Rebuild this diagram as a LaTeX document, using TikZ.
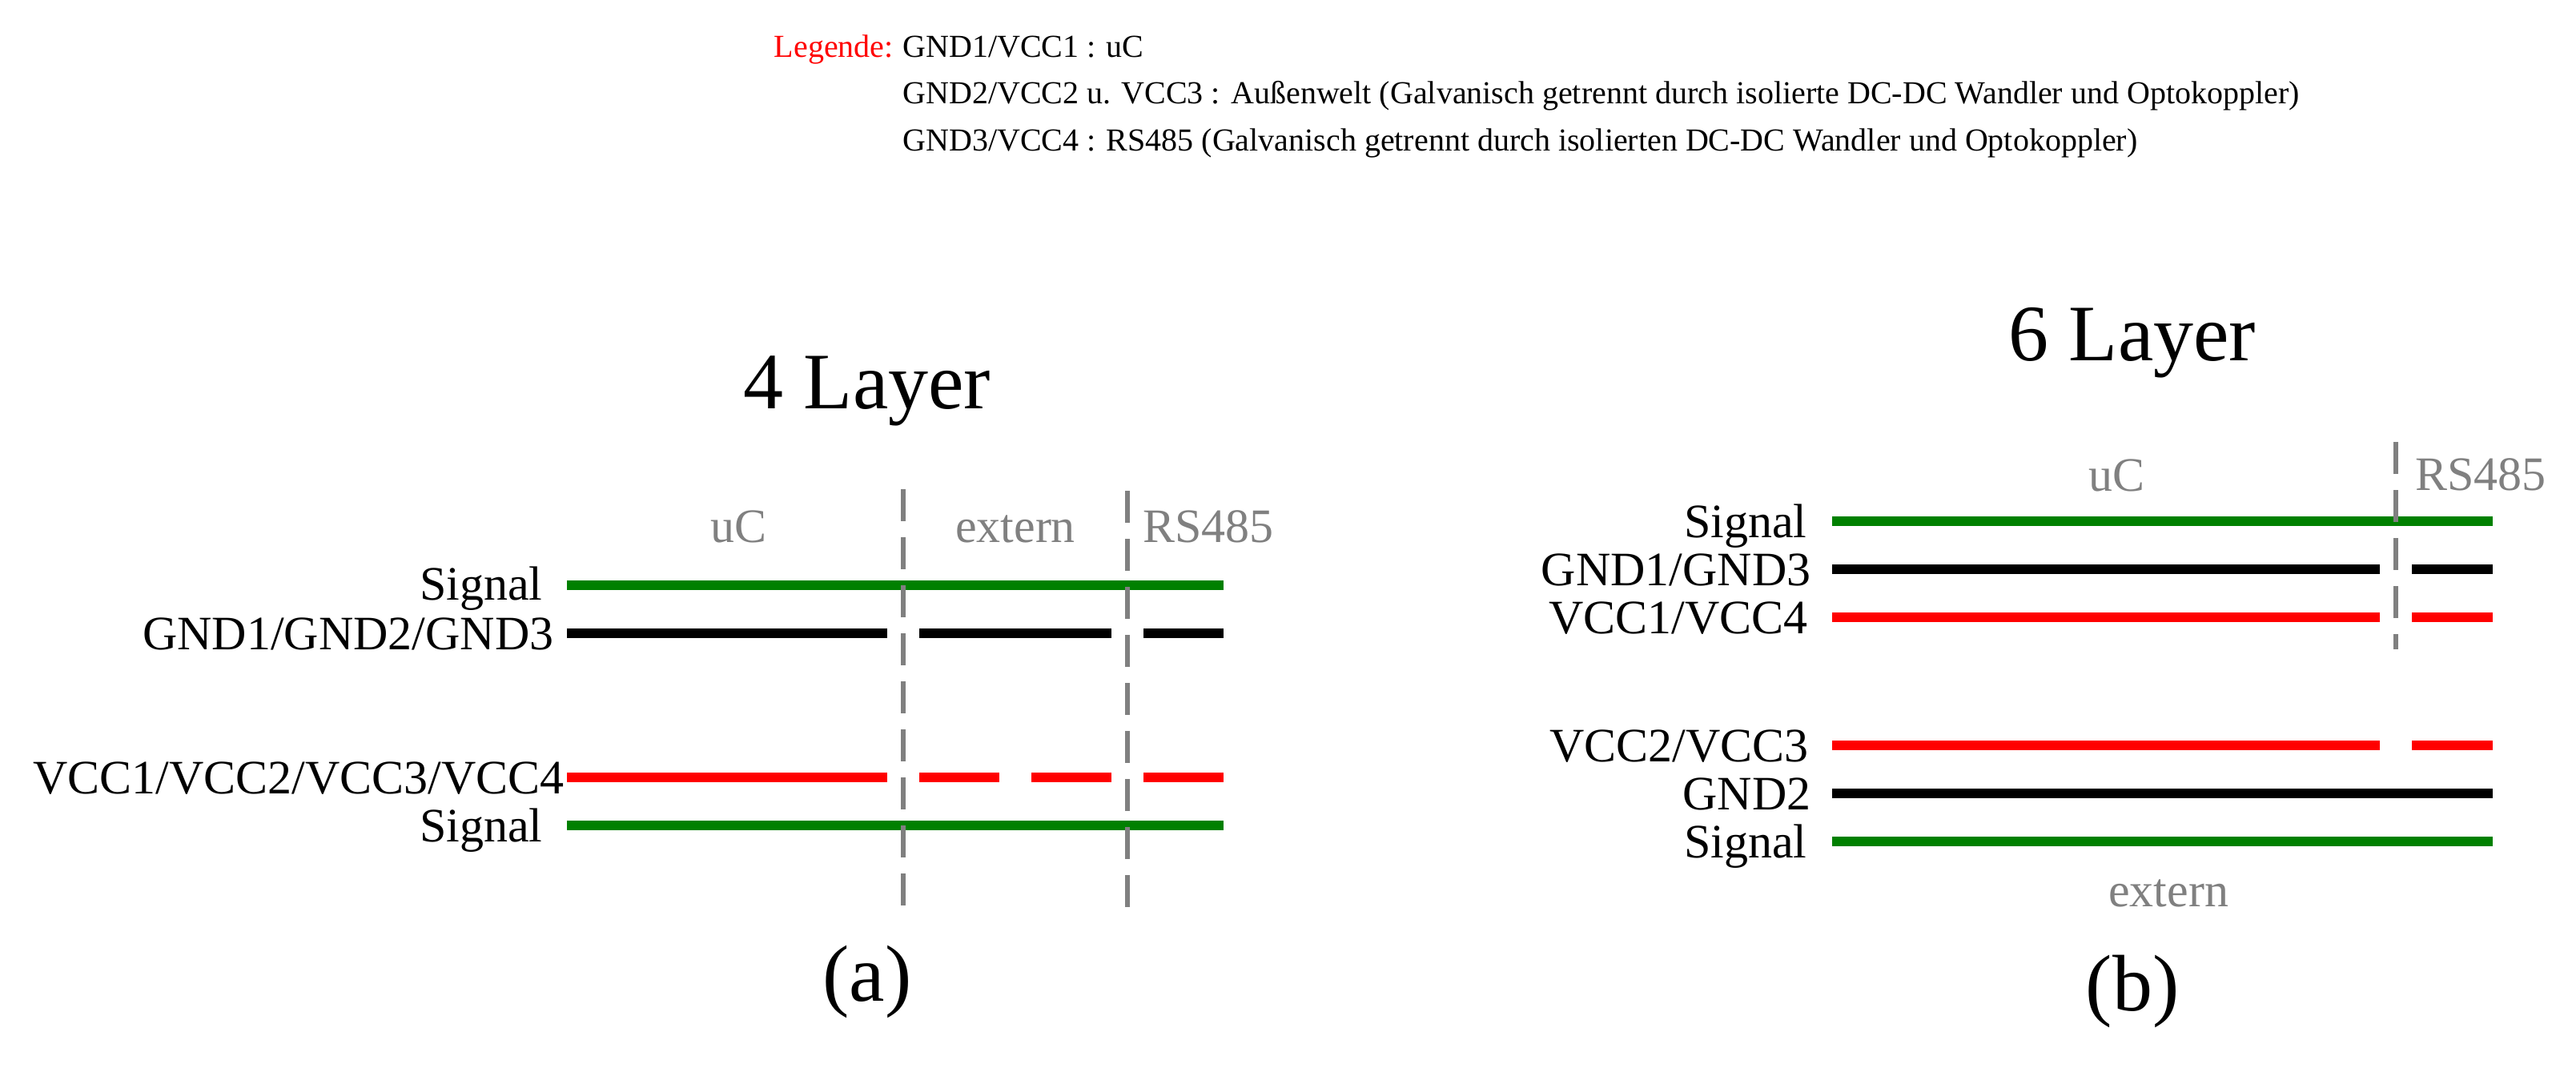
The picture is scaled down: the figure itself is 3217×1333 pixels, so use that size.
\documentclass[tikz,border=0pt]{standalone}
\usepackage{fontspec}
\setmainfont{Liberation Serif}
\definecolor{sgreen}{RGB}{0,128,0}
\definecolor{sred}{RGB}{255,0,0}
\definecolor{sepgray}{RGB}{128,128,128}
\begin{document}
\begin{tikzpicture}[x=0.5pt,y=-0.5pt,
  lay/.style={line width=6pt},
  sepline/.style={draw=sepgray,line width=3pt,dash pattern=on 20pt off 10pt},
  lbl/.style={inner sep=0pt,anchor=base east,font=\fontsize{30}{36}\selectfont},
  reg/.style={inner sep=0pt,anchor=base,text=sepgray,font=\fontsize{30}{36}\selectfont},
  ttl/.style={inner sep=0pt,anchor=base,font=\fontsize{50}{60}\selectfont},
  leg/.style={inner sep=0pt,anchor=base west,font=\fontsize{20}{24}\selectfont}]
\useasboundingbox (0,0) rectangle (3217,1333);

% Legend
\node[leg,anchor=base east,text=sred] (legk) at (1116,71) {Legende:};
\node[leg] (leg1) at (1127,71) {GND1/VCC1 : uC};
\node[leg] (leg2) at (1127,129) {GND2/VCC2 u. VCC3 : Außenwelt (Galvanisch getrennt durch isolierte DC-DC Wandler und Optokoppler)};
\node[leg] (leg3) at (1127,188) {GND3/VCC4 : RS485 (Galvanisch getrennt durch isolierten DC-DC Wandler und Optokoppler)};

% ---------- 4 Layer ----------
\node[ttl] (t4) at (1083,510) {4 Layer};
\node[ttl] (ca) at (1083,1250) {(a)};
\node[reg] (r4uc) at (922,677) {uC};
\node[reg] (r4ex) at (1268,677) {extern};
\node[reg,anchor=base west] (r4rs) at (1427,677) {RS485};

\node[lbl] (l4s1) at (678,749) {Signal};
\node[lbl] (l4g) at (692,811) {GND1/GND2/GND3};
\node[lbl] (l4v) at (705,991) {VCC1/VCC2/VCC3/VCC4};
\node[lbl] (l4s2) at (678,1051) {Signal};

\draw[lay,sgreen] (708,731) -- (1528,731);
\draw[lay,black] (708,791) -- (1108,791) (1148,791) -- (1388,791) (1428,791) -- (1528,791);
\draw[lay,sred] (708,971) -- (1108,971) (1148,971) -- (1248,971) (1288,971) -- (1388,971) (1428,971) -- (1528,971);
\draw[lay,sgreen] (708,1031) -- (1528,1031);

\coordinate (d4at) at (1128,611);
\coordinate (d4ab) at (1128,1133);
\coordinate (d4bt) at (1408,613);
\coordinate (d4bb) at (1408,1135);
\draw[sepline] (d4at) -- (d4ab);
\draw[sepline] (d4bt) -- (d4bb);

% ---------- 6 Layer ----------
\node[ttl] (t6) at (2663,450) {6 Layer};
\node[ttl] (cb) at (2663,1262) {(b)};
\node[reg] (r6uc) at (2643,613) {uC};
\node[reg,anchor=base west] (r6rs) at (3016,612) {RS485};
\node[reg] (r6ex) at (2708,1132) {extern};

\node[lbl] (l6s1) at (2257,671) {Signal};
\node[lbl] (l6g13) at (2262,731) {GND1/GND3};
\node[lbl] (l6v14) at (2258,791) {VCC1/VCC4};
\node[lbl] (l6v23) at (2259,951) {VCC2/VCC3};
\node[lbl] (l6g2) at (2262,1011) {GND2};
\node[lbl] (l6s2) at (2257,1071) {Signal};

\draw[lay,sgreen] (2288,651) -- (3113,651);
\draw[lay,black] (2288,711) -- (2972,711) (3012,711) -- (3113,711);
\draw[lay,sred] (2288,771) -- (2972,771) (3012,771) -- (3113,771);
\draw[lay,sred] (2288,931) -- (2972,931) (3012,931) -- (3113,931);
\draw[lay,black] (2288,991) -- (3113,991);
\draw[lay,sgreen] (2288,1051) -- (3113,1051);

\coordinate (d6t) at (2992,552);
\coordinate (d6b) at (2992,811);
\draw[sepline] (d6t) -- (d6b);
\end{tikzpicture}
\end{document}
